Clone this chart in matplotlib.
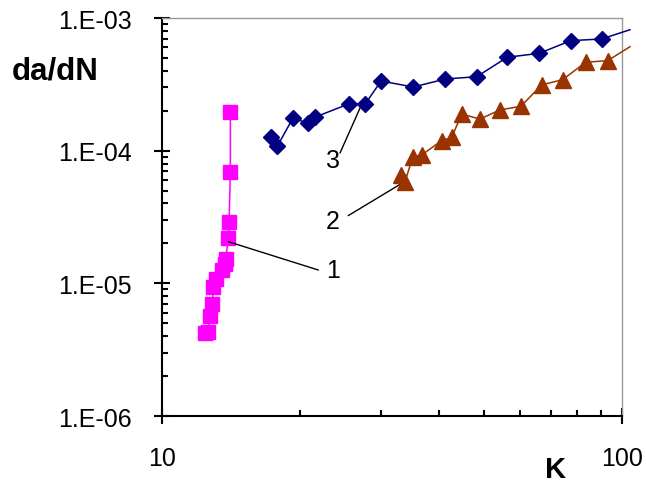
import numpy as np
import matplotlib.pyplot as plt
from matplotlib.ticker import FixedLocator, NullFormatter

plt.rcParams['font.family'] = ['Liberation Sans', 'DejaVu Sans']

# curve 1 (magenta squares)
k1 = np.array([12.38, 12.59, 12.72, 12.86, 12.93, 13.08, 13.48, 13.70, 13.75, 13.94, 13.99, 14.08, 14.08])
v1 = np.array([4.23e-6, 4.28e-6, 5.65e-6, 6.96e-6, 9.35e-6, 1.08e-5, 1.25e-5, 1.40e-5, 1.53e-5,
               2.19e-5, 2.92e-5, 6.88e-5, 1.95e-4])

# curve 2 (brown triangles); last value is where the line leaves the picture
k2 = np.array([33.0, 33.75, 35.08, 36.69, 40.55, 42.65, 44.83, 49.1, 54.3, 60.3, 66.9, 74.3, 83.4, 93.1, 104.1])
v2 = np.array([6.56e-5, 5.84e-5, 8.92e-5, 9.28e-5, 1.19e-4, 1.26e-4, 1.89e-4, 1.73e-4, 2.03e-4,
               2.16e-4, 3.13e-4, 3.43e-4, 4.64e-4, 4.77e-4, 6.08e-4])

# curve 3 (navy diamonds)
k3 = np.array([17.23, 17.81, 19.24, 20.74, 21.51, 25.54, 27.63, 29.94, 35.18, 41.30, 48.32,
               56.32, 66.12, 77.35, 90.34, 104.1])
v3 = np.array([1.26e-4, 1.08e-4, 1.75e-4, 1.62e-4, 1.79e-4, 2.26e-4, 2.24e-4, 3.35e-4, 3.02e-4,
               3.47e-4, 3.61e-4, 5.06e-4, 5.42e-4, 6.75e-4, 6.95e-4, 8.16e-4])

yticks = [1e-6, 1e-5, 1e-4, 1e-3]
ytick_labels = ['1.E-06', '1.E-05', '1.E-04', '1.E-03']
xticks = [10, 100]
xtick_labels = ['10', '100']

# curve labels: text position, leader start, leader end
labels = ['1', '2', '3']
label_pos = [(23.5, 1.25e-5), (23.5, 2.97e-5), (23.5, 8.55e-5)]
leader_from = [(21.87, 1.26e-5), (25.41, 3.24e-5), (24.38, 9.61e-5)]
leader_to = [(13.94, 2.06e-5), (33.5, 5.78e-5), (27.3, 2.32e-4)]

fig = plt.figure(figsize=(6.46, 4.85), dpi=100)
ax = fig.add_axes([0.2508, 0.1402, 0.712, 0.8206])

ax.plot(k1, v1, color='#FF00FF', lw=1.1, marker='s', ms=10, mec='#FF00FF', clip_on=False, zorder=3)
ax.plot(k2, v2, color='#993300', lw=1.1, clip_on=False, zorder=3)
ax.plot(k2[:-1], v2[:-1], ls='none', marker='^', ms=11, color='#993300', clip_on=False, zorder=4)
ax.plot(k3, v3, color='#000080', lw=1.1, clip_on=False, zorder=3)
ax.plot(k3[:-1], v3[:-1], ls='none', marker='D', ms=8, color='#000080', clip_on=False, zorder=4)

ax.set_xscale('log')
ax.set_yscale('log')
ax.set_xlim(10, 100)
ax.set_ylim(1e-6, 1e-3)

ax.yaxis.set_major_locator(FixedLocator(yticks))
ax.set_yticklabels(ytick_labels)
ax.xaxis.set_major_locator(FixedLocator(xticks))
ax.set_xticklabels(xtick_labels)
ax.xaxis.set_minor_locator(FixedLocator(np.arange(20, 100, 10)))
ax.yaxis.set_minor_locator(FixedLocator([m * 10.0 ** e for e in range(-6, -3) for m in range(2, 10)]))
ax.xaxis.set_minor_formatter(NullFormatter())
ax.yaxis.set_minor_formatter(NullFormatter())

ax.tick_params(which='major', direction='inout', length=11, width=1.5, labelsize=18, color='black')
ax.tick_params(axis='y', which='major', pad=16)
ax.tick_params(axis='x', which='major', pad=16)
ax.tick_params(which='minor', direction='in', length=4.5, width=1.5, color='black')

for s in ['left', 'bottom']:
    ax.spines[s].set_linewidth(1.5)
    ax.spines[s].set_color('black')
for s in ['top', 'right']:
    ax.spines[s].set_linewidth(1)
    ax.spines[s].set_color('#999999')

for lab, p, a, b in zip(labels, label_pos, leader_from, leader_to):
    ax.text(p[0], p[1], lab, fontsize=18, ha='center', va='center')
    ax.annotate('', xy=b, xytext=a,
                arrowprops=dict(arrowstyle='-', color='black', lw=1, shrinkA=0, shrinkB=0))

fig.text(0.0851, 0.852, 'da/dN', fontsize=22.5, fontweight='bold', ha='center', va='center')
fig.text(0.8607, 0.031, 'K', fontsize=21, fontweight='bold', ha='center', va='center')

fig.savefig('out.png', dpi=100)
